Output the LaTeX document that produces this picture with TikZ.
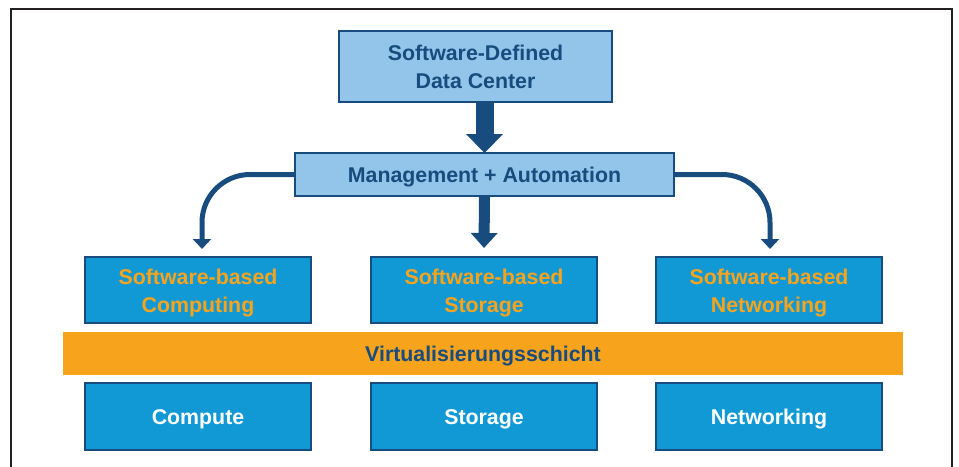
\documentclass[tikz,border=0pt]{standalone}
\usepackage{fontspec}
\setmainfont{Liberation Sans}
\usetikzlibrary{arrows.meta}

\definecolor{navy}{HTML}{184C7E}
\definecolor{paleblue}{HTML}{93C4E9}
\definecolor{boxblue}{HTML}{1199D6}
\definecolor{amber}{HTML}{F7A31C}
\definecolor{framegray}{HTML}{231F20}

% two centred lines whose box runs from the cap line of the first
% to the baseline of the second, so the caps sit centred in the node
\newcommand\twolines[2]{\rule{0pt}{12.4pt}#1\\\smash{#2}}

\begin{document}
\begin{tikzpicture}[x=0.75pt, y=-0.75pt,
  every node/.style={font=\fontsize{16}{20.75}\selectfont\bfseries, align=center,
                     inner sep=0pt, outer sep=0pt},
  oneline/.style={text height=11.46pt, text depth=0pt},
  topbox/.style={draw=navy, line width=1.5pt, fill=paleblue, text=navy},
  softbox/.style={draw=navy, line width=1.5pt, fill=boxblue, text=amber,
                  minimum width=169.5pt, minimum height=49.5pt},
  basebox/.style={draw=navy, line width=1.5pt, fill=boxblue, text=white, oneline,
                  minimum width=169.5pt, minimum height=50pt},
  layerbar/.style={fill=amber, text=navy, oneline, minimum width=630pt, minimum height=32.25pt},
  fatarrow/.style={draw=navy, line width=13.5pt, -{Triangle[width=27pt,length=14.25pt]}},
  midarrow/.style={draw=navy, line width=8.25pt, -{Triangle[width=19.5pt,length=11.25pt]}},
  bendarrow/.style={draw=navy, line width=3.75pt, rounded corners=36pt,
                    -{Triangle[width=13.5pt,length=7.5pt]}, shorten >=6pt}
]
\useasboundingbox (0,0) rectangle (959,467);

% outer frame, open at the bottom
\draw[framegray, line width=2pt] (11,467) -- (11,9) -- (952,9) -- (952,467);

% top level
\node[topbox, minimum width=204.75pt, minimum height=53.25pt] (sddc) at (475.5,66.5)
  {\twolines{Software-Defined}{Data Center}};
\node[topbox, oneline, minimum width=284.25pt, minimum height=32.25pt] (mgmt) at (484.5,174.5)
  {Management + Automation};

% software-based services
\node[softbox] (scomp) at (198,290) {\twolines{Software-based}{Computing}};
\node[softbox] (sstor) at (484,290) {\twolines{Software-based}{Storage}};
\node[softbox] (snet)  at (769,290) {\twolines{Software-based}{Networking}};

% virtualisation layer
\node[layerbar] (virt) at (483,353.5) {Virtualisierungsschicht};

% physical resources
\node[basebox] (comp) at (198,416.5) {Compute};
\node[basebox] (stor) at (484,416.5) {Storage};
\node[basebox] (net)  at (769,416.5) {Networking};

% connectors
\draw[fatarrow] (mgmt.north |- sddc.south) -- (mgmt.north);
\draw[midarrow] (mgmt.south) -- ([yshift=6.75pt]sstor.north);
\draw[bendarrow] (mgmt.west) -| ([xshift=3pt]scomp.north);
\draw[bendarrow] (mgmt.east) -| ([xshift=0.75pt]snet.north);
\end{tikzpicture}
\end{document}
